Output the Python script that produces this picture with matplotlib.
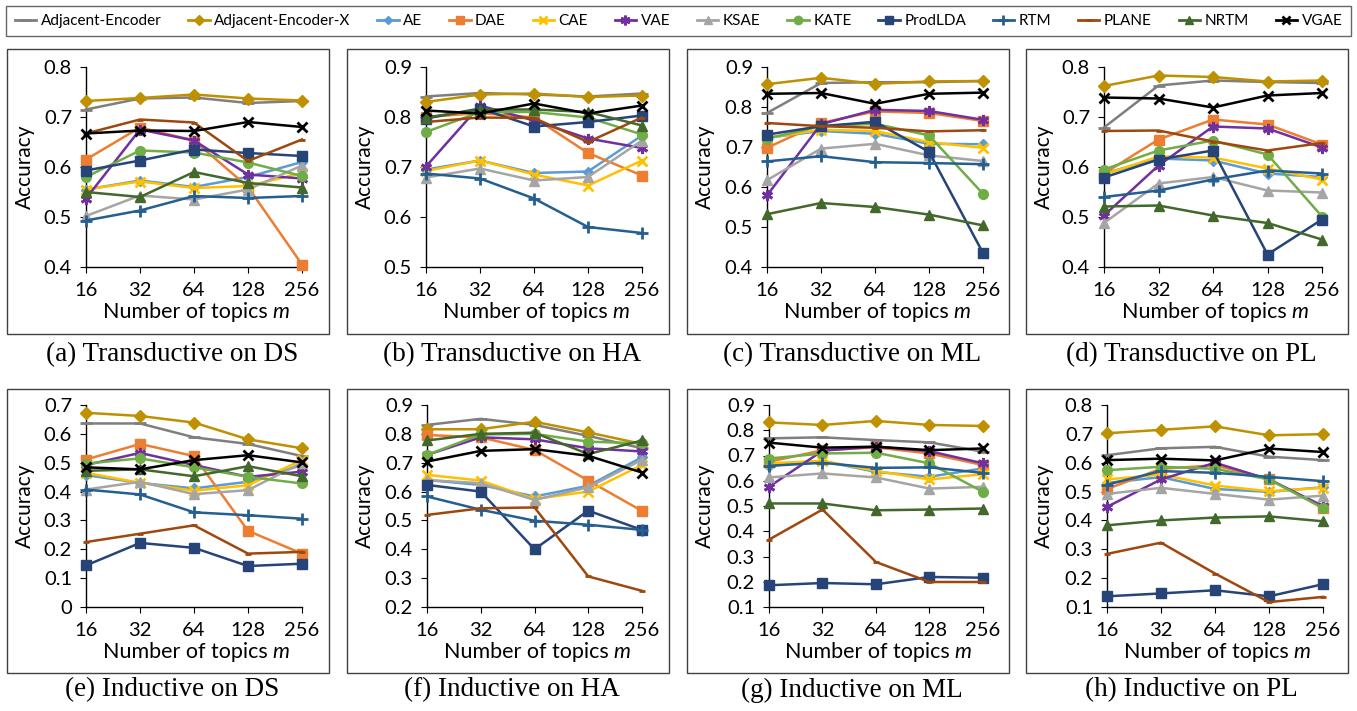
import numpy as np
import matplotlib.pyplot as plt
from matplotlib.patches import Rectangle
from matplotlib.lines import Line2D

plt.rcParams['font.family'] = ['Lato', 'DejaVu Sans']

topics = ['16', '32', '64', '128', '256']
methods = ['Adjacent-Encoder', 'Adjacent-Encoder-X', 'AE', 'DAE', 'CAE', 'VAE', 'KSAE',
           'KATE', 'ProdLDA', 'RTM', 'PLANE', 'NRTM', 'VGAE']
colors = ['#7f7f7f', '#bf9000', '#5b9bd5', '#ed7d31', '#ffc000', '#7030a0', '#a5a5a5',
          '#70ad47', '#264478', '#255e91', '#9e480e', '#43682b', '#000000']
markers = ['_', 'D', 'D', 's', 'x', (6, 2, 0), '^', 'o', 's', '+', '_', '^', 'x']
msizes = [9, 6, 5, 7, 7, 8, 7, 7, 7, 8, 5, 7, 7]

# accuracy values, rows in the order of `methods`
trans_ds = [[0.715, 0.737, 0.739, 0.728, 0.732],
            [0.732, 0.738, 0.745, 0.737, 0.733],
            [0.555, 0.573, 0.560, 0.580, 0.610],
            [0.615, 0.679, 0.653, 0.560, 0.405],
            [0.555, 0.571, 0.558, 0.562, 0.588],
            [0.537, 0.675, 0.653, 0.585, 0.577],
            [0.502, 0.543, 0.535, 0.555, 0.603],
            [0.580, 0.633, 0.629, 0.609, 0.582],
            [0.593, 0.613, 0.635, 0.628, 0.622],
            [0.493, 0.513, 0.542, 0.538, 0.542],
            [0.667, 0.695, 0.689, 0.612, 0.655],
            [0.550, 0.540, 0.590, 0.568, 0.559],
            [0.667, 0.673, 0.672, 0.690, 0.680]]

trans_ha = [[0.841, 0.848, 0.845, 0.841, 0.847],
            [0.830, 0.845, 0.847, 0.840, 0.843],
            [0.695, 0.713, 0.688, 0.691, 0.763],
            [0.800, 0.808, 0.799, 0.728, 0.683],
            [0.692, 0.713, 0.685, 0.663, 0.713],
            [0.701, 0.823, 0.793, 0.757, 0.738],
            [0.679, 0.697, 0.673, 0.680, 0.753],
            [0.770, 0.810, 0.810, 0.799, 0.765],
            [0.797, 0.817, 0.781, 0.790, 0.803],
            [0.687, 0.677, 0.637, 0.580, 0.568],
            [0.790, 0.799, 0.798, 0.750, 0.799],
            [0.799, 0.815, 0.815, 0.810, 0.783],
            [0.813, 0.807, 0.827, 0.807, 0.823]]

trans_ml = [[0.785, 0.860, 0.862, 0.862, 0.865],
            [0.857, 0.873, 0.858, 0.864, 0.865],
            [0.723, 0.740, 0.733, 0.708, 0.707],
            [0.698, 0.760, 0.789, 0.785, 0.765],
            [0.723, 0.743, 0.740, 0.712, 0.698],
            [0.579, 0.757, 0.793, 0.790, 0.768],
            [0.617, 0.696, 0.708, 0.679, 0.665],
            [0.721, 0.752, 0.758, 0.729, 0.583],
            [0.731, 0.752, 0.763, 0.688, 0.435],
            [0.664, 0.677, 0.662, 0.660, 0.657],
            [0.760, 0.752, 0.748, 0.739, 0.742],
            [0.532, 0.560, 0.550, 0.531, 0.504],
            [0.833, 0.835, 0.808, 0.833, 0.836]]

trans_pl = [[0.679, 0.763, 0.773, 0.770, 0.768],
            [0.762, 0.783, 0.780, 0.771, 0.773],
            [0.587, 0.617, 0.613, 0.587, 0.580],
            [0.587, 0.655, 0.695, 0.685, 0.645],
            [0.585, 0.621, 0.619, 0.597, 0.575],
            [0.503, 0.603, 0.681, 0.677, 0.639],
            [0.488, 0.567, 0.580, 0.553, 0.549],
            [0.595, 0.633, 0.653, 0.625, 0.501],
            [0.579, 0.615, 0.633, 0.425, 0.495],
            [0.540, 0.553, 0.575, 0.593, 0.587],
            [0.672, 0.673, 0.651, 0.633, 0.648],
            [0.521, 0.523, 0.503, 0.488, 0.455],
            [0.739, 0.737, 0.719, 0.743, 0.748]]

ind_ds = [[0.636, 0.636, 0.588, 0.565, 0.523],
          [0.673, 0.662, 0.639, 0.581, 0.550],
          [0.457, 0.430, 0.411, 0.434, 0.492],
          [0.511, 0.565, 0.523, 0.264, 0.185],
          [0.465, 0.430, 0.403, 0.422, 0.509],
          [0.492, 0.534, 0.492, 0.451, 0.469],
          [0.407, 0.434, 0.391, 0.405, 0.500],
          [0.497, 0.515, 0.484, 0.451, 0.428],
          [0.144, 0.222, 0.205, 0.142, 0.150],
          [0.407, 0.390, 0.328, 0.318, 0.306],
          [0.225, 0.254, 0.283, 0.185, 0.191],
          [0.472, 0.477, 0.453, 0.488, 0.453],
          [0.484, 0.477, 0.509, 0.526, 0.501]]

ind_ha = [[0.831, 0.852, 0.831, 0.793, 0.750],
          [0.816, 0.816, 0.842, 0.805, 0.765],
          [0.640, 0.623, 0.583, 0.620, 0.719],
          [0.796, 0.788, 0.744, 0.638, 0.533],
          [0.658, 0.638, 0.574, 0.600, 0.692],
          [0.727, 0.788, 0.781, 0.750, 0.739],
          [0.640, 0.629, 0.571, 0.615, 0.710],
          [0.727, 0.798, 0.800, 0.773, 0.767],
          [0.623, 0.600, 0.400, 0.534, 0.467],
          [0.583, 0.537, 0.499, 0.485, 0.467],
          [0.519, 0.542, 0.545, 0.306, 0.256],
          [0.777, 0.800, 0.804, 0.730, 0.777],
          [0.704, 0.741, 0.747, 0.724, 0.666]]

ind_ml = [[0.768, 0.772, 0.761, 0.752, 0.715],
          [0.831, 0.821, 0.837, 0.821, 0.817],
          [0.659, 0.678, 0.635, 0.616, 0.649],
          [0.675, 0.721, 0.732, 0.708, 0.662],
          [0.669, 0.679, 0.639, 0.605, 0.626],
          [0.576, 0.719, 0.735, 0.717, 0.669],
          [0.613, 0.629, 0.613, 0.569, 0.576],
          [0.688, 0.708, 0.711, 0.669, 0.556],
          [0.186, 0.195, 0.190, 0.219, 0.216],
          [0.659, 0.671, 0.651, 0.653, 0.631],
          [0.367, 0.486, 0.278, 0.199, 0.199],
          [0.510, 0.510, 0.483, 0.486, 0.490],
          [0.751, 0.731, 0.735, 0.721, 0.728]]

ind_pl = [[0.626, 0.650, 0.655, 0.621, 0.609],
          [0.702, 0.714, 0.726, 0.695, 0.699],
          [0.530, 0.550, 0.509, 0.499, 0.515],
          [0.509, 0.579, 0.591, 0.544, 0.443],
          [0.542, 0.559, 0.521, 0.501, 0.513],
          [0.447, 0.542, 0.600, 0.542, 0.450],
          [0.492, 0.513, 0.492, 0.472, 0.486],
          [0.574, 0.586, 0.579, 0.542, 0.443],
          [0.137, 0.147, 0.158, 0.137, 0.179],
          [0.524, 0.571, 0.565, 0.551, 0.536],
          [0.284, 0.323, 0.216, 0.117, 0.135],
          [0.383, 0.400, 0.410, 0.414, 0.397],
          [0.609, 0.614, 0.608, 0.649, 0.637]]

panels = [trans_ds, trans_ha, trans_ml, trans_pl, ind_ds, ind_ha, ind_ml, ind_pl]
captions = ['(a) Transductive on DS', '(b) Transductive on HA', '(c) Transductive on ML',
            '(d) Transductive on PL', '(e) Inductive on DS', '(f) Inductive on HA',
            '(g) Inductive on ML', '(h) Inductive on PL']
ylims = [(0.4, 0.8), (0.5, 0.9), (0.4, 0.9), (0.4, 0.8),
         (0.0, 0.7), (0.2, 0.9), (0.1, 0.9), (0.1, 0.8)]

W, H = 1357, 711
fig = plt.figure(figsize=(W / 100, H / 100), dpi=100)

# pixel layout: axes (left, right, top, bottom), frame (left, right, top, bottom)
axes_px = [(86, 302, 67, 267), (426, 642, 67, 267), (767, 983, 67, 267), (1104, 1322, 67, 267),
           (86, 302, 405, 607), (427, 642, 405, 607), (769, 983, 405, 607), (1107, 1323, 405, 607)]
frame_x = [(7, 329), (347, 669), (687, 1009), (1026, 1348)]
frame_y = [(49, 334), (389, 673)]
caption_y = [355, 690]

for i, data in enumerate(panels):
    l, r, t, b = axes_px[i]
    row, col = divmod(i, 4)
    fx0, fx1 = frame_x[col]
    fy0, fy1 = frame_y[row]

    ax = fig.add_axes([l / W, 1 - b / H, (r - l) / W, (b - t) / H])
    x = np.arange(len(topics))
    for j, m in enumerate(methods):
        ax.plot(x, data[j], color=colors[j], marker=markers[j], markersize=msizes[j],
                lw=1.8, mew=2 if markers[j] in ['x', '+', '_', (6, 2, 0)] else 1,
                clip_on=False, zorder=3 + j)
    lo, hi = ylims[i]
    ticks = np.round(np.arange(lo, hi + 0.001, 0.1), 1)
    ax.set_ylim(lo, hi)
    ax.set_yticks(ticks)
    ax.set_yticklabels([f'{v:g}' for v in ticks])
    ax.set_xlim(0, 4)
    ax.set_xticks(x)
    ax.set_xticklabels(topics)
    for s in ['top', 'right']:
        ax.spines[s].set_visible(False)
    for s in ['left', 'bottom']:
        ax.spines[s].set_color('#000000')
        ax.spines[s].set_linewidth(1)
    ax.tick_params(axis='both', labelsize=14.5, length=4, color='#000000')
    ax.tick_params(axis='y', pad=6)
    ax.tick_params(axis='x', pad=7)
    ax.set_ylabel('Accuracy', fontsize=15)
    ax.yaxis.set_label_coords((fx0 + 28 - l) / (r - l), 0.5)

    # x label: plain text plus an italic "m", placed in whole figure pixels
    cx = round((l + r) / 2 - 9)
    ytop = 302 if row == 0 else 642
    fig.text(cx / W, 1 - ytop / H, 'Number of topics', ha='center', va='top',
             fontsize=15.5)
    fig.text((cx + 87) / W, 1 - ytop / H, 'm', ha='left', va='top',
             fontsize=15.5, style='italic')

    fig.patches.append(Rectangle((fx0 / W, 1 - fy1 / H), (fx1 - fx0) / W, (fy1 - fy0) / H,
                                 transform=fig.transFigure, fill=False,
                                 edgecolor='#404040', lw=1))
    fig.text((fx0 + fx1) / 2 / W + 0.003, 1 - caption_y[row] / H, captions[i],
             family='Liberation Serif', fontsize=19.5, ha='center', va='center')

# legend across the top
handles = [Line2D([], [], color=colors[j], marker=markers[j], markersize=msizes[j] - 1,
                  lw=2, mew=2 if markers[j] in ['x', '+', '_', (6, 2, 0)] else 1)
           for j in range(len(methods))]
leg = fig.legend(handles, methods, loc='center', bbox_to_anchor=(0.5, 1 - 21 / H),
                 ncol=13, fontsize=11, frameon=True, handlelength=1.4, handletextpad=0.3,
                 columnspacing=1.75, borderpad=0.55, fancybox=False)
leg.get_frame().set_edgecolor('#404040')
leg.get_frame().set_linewidth(1)

fig.savefig('out.png', dpi=100)
